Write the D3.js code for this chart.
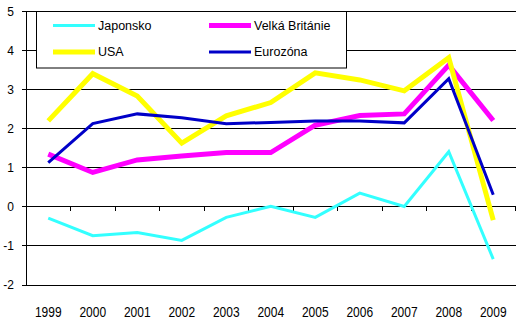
<!DOCTYPE html>
<html>
<head>
<meta charset="utf-8">
<script src="https://cdn.jsdelivr.net/npm/d3@7"></script>
<style>
  body { margin: 0; background: #fff; }
  svg { display: block; font-family: Arial, "Liberation Sans", sans-serif; }
</style>
</head>
<body>
<svg id="chart" width="519" height="323"></svg>
<script>
// Inflation by region, 1999–2009 (%)
const years = ['1999', '2000', '2001', '2002', '2003', '2004', '2005', '2006', '2007', '2008', '2009'];
const japonsko = [-0.3, -0.75, -0.67, -0.87, -0.28, 0.0, -0.28, 0.34, 0.0, 1.4, -1.35];
const velkaBritanie = [1.34, 0.87, 1.19, 1.29, 1.38, 1.38, 2.08, 2.33, 2.37, 3.62, 2.2];
const usa = [2.19, 3.4, 2.83, 1.62, 2.32, 2.66, 3.42, 3.24, 2.96, 3.81, -0.35];
const eurozona = [1.12, 2.12, 2.37, 2.27, 2.12, 2.15, 2.19, 2.19, 2.14, 3.27, 0.3];
const yTicks = [-2, -1, 0, 1, 2, 3, 4, 5];

const series = [
  { name: 'Japonsko', values: japonsko, color: '#33ffff', width: 3 },
  { name: 'Velká Británie', values: velkaBritanie, color: '#ff00ff', width: 5 },
  { name: 'USA', values: usa, color: '#ffff00', width: 5 },
  { name: 'Eurozóna', values: eurozona, color: '#0000c8', width: 3 }
];

const svg = d3.select('#chart');
const plotLeft = 26, plotRight = 515.5, plotTop = 11.2, plotBottom = 284.5;

const x = d3.scaleBand().domain(years).range([plotLeft, plotRight]).padding(0);
const y = d3.scaleLinear().domain([-2, 5]).range([plotBottom, plotTop]);
const cx = d => x(d) + x.bandwidth() / 2;

// horizontal gridlines
svg.append('g')
  .attr('transform', `translate(${plotLeft},0)`)
  .call(d3.axisLeft(y).tickValues(yTicks).tickSize(-(plotRight - plotLeft)).tickFormat(''))
  .call(g => g.select('.domain').remove())
  .selectAll('line').attr('stroke', '#000').attr('shape-rendering', 'crispEdges');

// y axis with labels (plain hyphen for negatives)
svg.append('g')
  .attr('transform', `translate(${plotLeft},0)`)
  .call(d3.axisLeft(y).tickValues(yTicks).tickFormat(d => String(d))
    .tickSize(4).tickPadding(8).tickSizeOuter(0))
  .call(g => g.selectAll('line, path').attr('stroke', '#000').attr('shape-rendering', 'crispEdges'))
  .call(g => g.selectAll('text').attr('font-size', 12).attr('fill', '#000')
    .attr('font-family', 'Arial, "Liberation Sans", sans-serif'));

// x axis along zero, ticks at category boundaries
const xAxis = svg.append('g');
xAxis.append('line')
  .attr('x1', plotLeft).attr('x2', plotRight)
  .attr('y1', y(0)).attr('y2', y(0))
  .attr('stroke', '#000').attr('shape-rendering', 'crispEdges');
xAxis.selectAll('line.tick')
  .data(years.slice(1).map(d => x(d)).concat([x.range()[1]]))
  .enter().append('line')
  .attr('class', 'tick')
  .attr('x1', d => d).attr('x2', d => d)
  .attr('y1', y(0)).attr('y2', y(0) + 5)
  .attr('stroke', '#000').attr('shape-rendering', 'crispEdges');

// year labels sit below the plot area
const labelY = 311.5;
svg.append('g').selectAll('text')
  .data(years)
  .enter().append('text')
  .attr('transform', d => `translate(${cx(d)},${labelY}) scale(1,1.22)`)
  .attr('text-anchor', 'middle')
  .attr('dy', '0.35em')
  .attr('font-size', 12)
  .attr('fill', '#000')
  .text(d => d);

// series lines
const line = d3.line()
  .x((v, i) => cx(years[i]))
  .y(v => y(v));

svg.append('g').selectAll('path')
  .data(series)
  .enter().append('path')
  .attr('d', d => line(d.values))
  .attr('fill', 'none')
  .attr('stroke', d => d.color)
  .attr('stroke-width', d => d.width)
  .attr('stroke-linejoin', 'miter');

// legend
const legend = svg.append('g');
legend.append('rect')
  .attr('x', 36.5).attr('y', 11.5)
  .attr('width', 310).attr('height', 56.5)
  .attr('fill', '#fff').attr('stroke', '#000');

const slots = [
  { x: 53, y: 25.5 }, { x: 209, y: 25.5 },
  { x: 53, y: 52 }, { x: 209, y: 52 }
];
series.forEach((s, i) => {
  const p = slots[i];
  legend.append('line')
    .attr('x1', p.x).attr('x2', p.x + 42)
    .attr('y1', p.y).attr('y2', p.y)
    .attr('stroke', s.color).attr('stroke-width', s.width);
  legend.append('text')
    .attr('x', p.x + 45).attr('y', p.y)
    .attr('dy', '0.35em')
    .attr('font-size', 12.5)
    .attr('fill', '#000')
    .text(s.name);
});
</script>
</body>
</html>
